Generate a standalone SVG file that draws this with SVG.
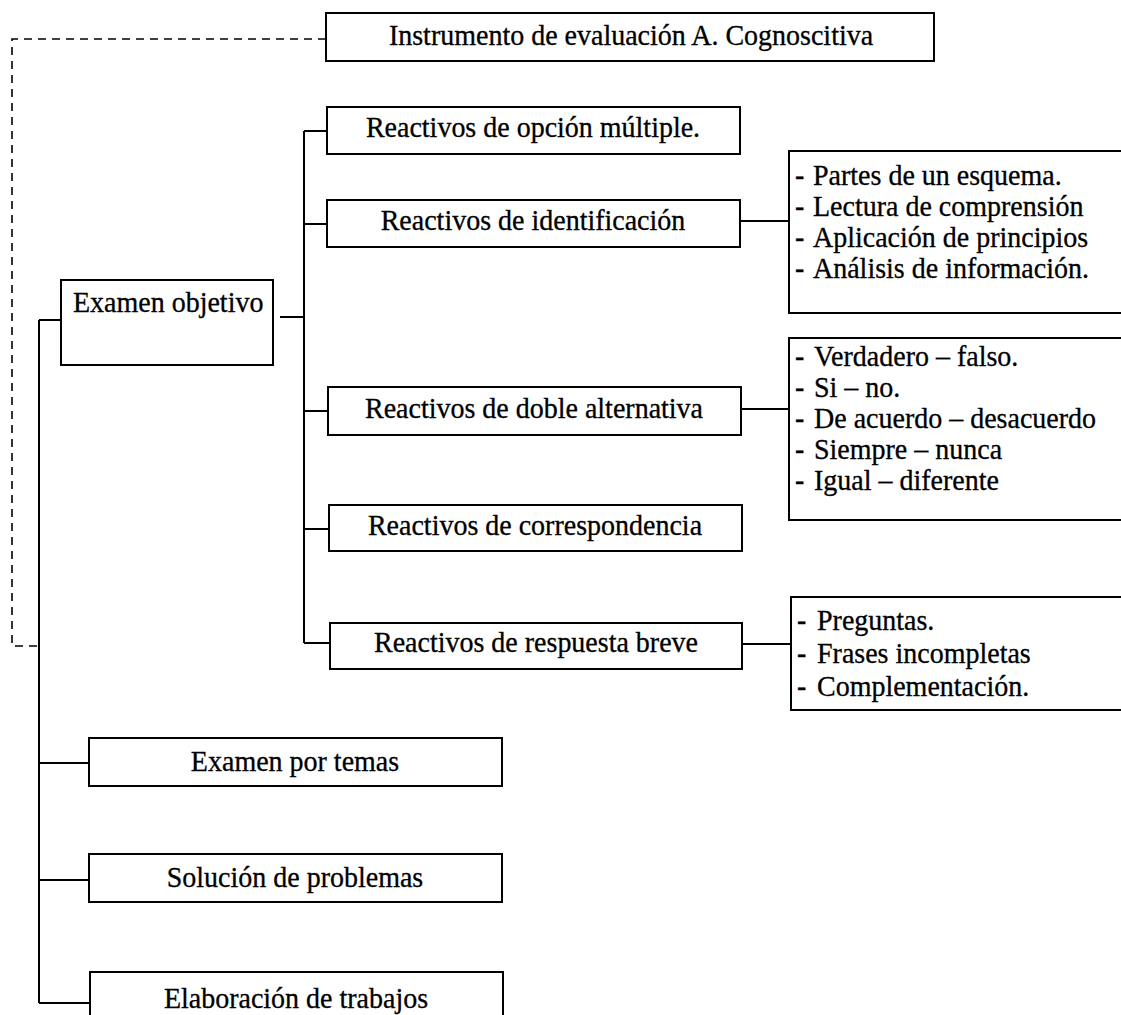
<svg xmlns="http://www.w3.org/2000/svg" width="1121" height="1015" viewBox="0 0 1121 1015">
<style>
.box{fill:#fff;stroke:#000;stroke-width:2}
.ln{fill:none;stroke:#000;stroke-width:2}
.dash{fill:none;stroke:#000;stroke-width:1.6;stroke-dasharray:8 6}
text{font-family:"Liberation Serif","Times New Roman",serif;font-size:28px;fill:#000;stroke:#000;stroke-width:0.3}
.c{text-anchor:middle}
</style>
<rect width="1121" height="1015" fill="#fff"/>
<g id="connectors">
<path class="dash" d="M326,39 H12 V646 H38"/>
<path class="ln" d="M39,320 V1003"/>
<path class="ln" d="M39,320 H61"/>
<path class="ln" d="M39,763 H89"/>
<path class="ln" d="M39,880 H89"/>
<path class="ln" d="M39,1003 H90"/>
<path class="ln" d="M304,131 V643"/>
<path class="ln" d="M280,317 H304"/>
<path class="ln" d="M304,131 H327"/>
<path class="ln" d="M304,224 H327"/>
<path class="ln" d="M304,411 H328"/>
<path class="ln" d="M304,529 H329"/>
<path class="ln" d="M304,643 H330"/>
<path class="ln" d="M740,221 H789"/>
<path class="ln" d="M741,409 H789"/>
<path class="ln" d="M742,644 H791"/>
</g>
<g id="n-instrumento">
<rect class="box" x="326" y="13" width="608" height="48"/>
<text class="c" transform="translate(631 45) scale(1 1.08)">Instrumento de evaluación A. Cognoscitiva</text>
</g>
<g id="n-examen-objetivo">
<rect class="box" x="61" y="280" width="212" height="85"/>
<text transform="translate(73 312) scale(1 1.08)">Examen objetivo</text>
</g>
<g id="n-opcion">
<rect class="box" x="327" y="107" width="413" height="47"/>
<text class="c" transform="translate(533 137) scale(1 1.08)">Reactivos de opción múltiple.</text>
</g>
<g id="n-identificacion">
<rect class="box" x="327" y="200" width="413" height="47"/>
<text class="c" transform="translate(533 230) scale(1 1.08)">Reactivos de identificación</text>
</g>
<g id="n-doble">
<rect class="box" x="328" y="387" width="413" height="48"/>
<text class="c" transform="translate(534 418) scale(1 1.08)">Reactivos de doble alternativa</text>
</g>
<g id="n-correspondencia">
<rect class="box" x="329" y="505" width="413" height="46"/>
<text class="c" transform="translate(535 535) scale(1 1.08)">Reactivos de correspondencia</text>
</g>
<g id="n-respuesta">
<rect class="box" x="330" y="623" width="412" height="46"/>
<text class="c" transform="translate(536 652) scale(1 1.08)">Reactivos de respuesta breve</text>
</g>
<g id="n-lista-identificacion">
<rect class="box" x="789" y="151" width="345" height="162"/>
<text transform="translate(795 185) scale(1 1.08)">-</text><text transform="translate(813 185) scale(1 1.08)">Partes de un esquema.</text>
<text transform="translate(795 216) scale(1 1.08)">-</text><text transform="translate(813 216) scale(1 1.08)">Lectura de comprensión</text>
<text transform="translate(795 247) scale(1 1.08)">-</text><text transform="translate(813 247) scale(1 1.08)">Aplicación de principios</text>
<text transform="translate(795 278) scale(1 1.08)">-</text><text transform="translate(813 278) scale(1 1.08)">Análisis de información.</text>
</g>
<g id="n-lista-doble">
<rect class="box" x="789" y="338" width="345" height="182"/>
<text transform="translate(795 366) scale(1 1.08)">-</text><text transform="translate(814 366) scale(1 1.08)">Verdadero – falso.</text>
<text transform="translate(795 397) scale(1 1.08)">-</text><text transform="translate(814 397) scale(1 1.08)">Si – no.</text>
<text transform="translate(795 428) scale(1 1.08)">-</text><text transform="translate(814 428) scale(1 1.08)">De acuerdo – desacuerdo</text>
<text transform="translate(795 459) scale(1 1.08)">-</text><text transform="translate(814 459) scale(1 1.08)">Siempre – nunca</text>
<text transform="translate(795 490) scale(1 1.08)">-</text><text transform="translate(814 490) scale(1 1.08)">Igual – diferente</text>
</g>
<g id="n-lista-respuesta">
<rect class="box" x="791" y="597" width="345" height="113"/>
<text transform="translate(797 630) scale(1 1.08)">-</text><text transform="translate(817 630) scale(1 1.08)">Preguntas.</text>
<text transform="translate(797 663) scale(1 1.08)">-</text><text transform="translate(817 663) scale(1 1.08)">Frases incompletas</text>
<text transform="translate(797 696) scale(1 1.08)">-</text><text transform="translate(817 696) scale(1 1.08)">Complementación.</text>
</g>
<g id="n-temas">
<rect class="box" x="89" y="738" width="413" height="48"/>
<text class="c" transform="translate(295 771) scale(1 1.08)">Examen por temas</text>
</g>
<g id="n-problemas">
<rect class="box" x="89" y="854" width="413" height="48"/>
<text class="c" transform="translate(295 887) scale(1 1.08)">Solución de problemas</text>
</g>
<g id="n-trabajos">
<rect class="box" x="90" y="972" width="413" height="60"/>
<text class="c" transform="translate(296 1008) scale(1 1.08)">Elaboración de trabajos</text>
</g>
</svg>
